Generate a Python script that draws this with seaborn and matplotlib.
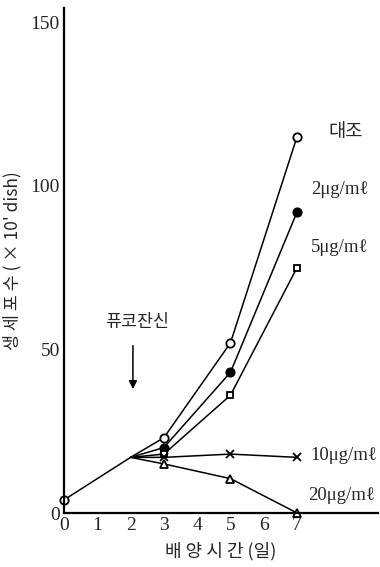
import pandas as pd
import matplotlib
matplotlib.use("Agg")
import matplotlib.pyplot as plt
import seaborn as sns

# data
days_shared = [0, 2]
count_shared = [4, 17]

days = [2, 3, 5, 7]
control = [17, 23, 52, 115]
fx2 = [17, 20, 43, 92]
fx5 = [17, 18, 36, 75]
fx10 = [17, 17, 18, 17]
fx20 = [17, 15, 10.5, 0]

series_names = ["대조", "2μg/mℓ", "5μg/mℓ", "10μg/mℓ", "20μg/mℓ"]
series_values = [control, fx2, fx5, fx10, fx20]
y_ticks = [0, 50, 100, 150]
x_ticks = [0, 1, 2, 3, 4, 5, 6, 7]

sns.set_style("white")
plt.rcParams["font.family"] = ["Liberation Serif", "Noto Sans CJK KR", "DejaVu Sans"]
kr = ["Noto Sans CJK KR", "DejaVu Sans"]
mixed = ["Liberation Serif", "Noto Sans CJK KR", "DejaVu Sans"]

fig = plt.figure(figsize=(3.8, 5.67), dpi=100)
ax = fig.add_axes([64 / 380, 1 - 513 / 567, (378 - 64) / 380, (513 - 8) / 567])

# shared segment day 0 -> 2
sns.lineplot(x=days_shared, y=count_shared, ax=ax, color="black", lw=1.1,
             marker="o", markevery=[0], markersize=6, markerfacecolor="white",
             markeredgecolor="black", markeredgewidth=1.3, clip_on=False)

styles = [
    dict(marker="o", markerfacecolor="white"),
    dict(marker="o", markerfacecolor="black"),
    dict(marker="s", markerfacecolor="white", markersize=5),
    dict(marker="x", markerfacecolor="black"),
    dict(marker="^", markerfacecolor="white"),
]
for name, vals, st in zip(series_names, series_values, styles):
    kw = dict(markersize=6, markeredgecolor="black", markeredgewidth=1.3)
    kw.update(st)
    df = pd.DataFrame({"day": days, "count": vals})
    sns.lineplot(data=df, x="day", y="count", ax=ax, color="black", lw=1.1,
                 markevery=[1, 2, 3], clip_on=False, **kw)

ax.set_xlim(0, 9.43)
ax.set_ylim(0, 154.3)
ax.set_xticks(x_ticks)
ax.set_yticks(y_ticks)
ax.tick_params(direction="in", length=7, width=1.3, labelsize=14, pad=3)
for s in ["top", "right"]:
    ax.spines[s].set_visible(False)
for s in ["left", "bottom"]:
    ax.spines[s].set_linewidth(1.6)
    ax.spines[s].set_color("black")

ax.set_xlabel("배 양 시 간 (일)", family=kr, fontsize=13)
ax.xaxis.set_label_coords(0.5, -0.058)
ax.set_ylabel("생 세 포 수 ( × 10' dish)", family=kr, fontsize=12.5)
ax.yaxis.set_label_coords(-0.135, 0.5)

# series labels
label_pos = [(346, 132), (340, 190), (340, 248), (344, 456), (342, 495)]
for name, (px, py) in zip(series_names, label_pos):
    fig.text(px / 380, 1 - py / 567, name, ha="center", va="center",
             fontsize=13.5, family=mixed)

fig.text(137 / 380, 1 - 322 / 567, "퓨코잔신", ha="center", va="center",
         fontsize=12.5, family=kr)
ax.annotate("", xy=(2.07, 37), xytext=(2.07, 52),
            arrowprops=dict(arrowstyle="-|>", color="black", lw=1.1,
                            mutation_scale=12))

fig.savefig("out.png", dpi=100)
